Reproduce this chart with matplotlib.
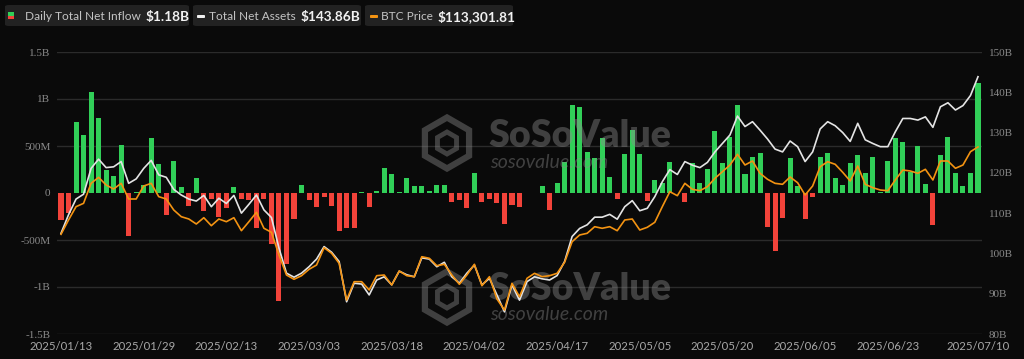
import matplotlib
matplotlib.use("Agg")
import matplotlib.pyplot as plt
import pandas as pd
from matplotlib.patches import FancyBboxPatch, Rectangle, RegularPolygon

W, H = 1024, 359
BG = "#0a0a0a"

# ---------------- data ----------------
holidays = ["2025-01-20", "2025-02-17", "2025-04-18", "2025-05-26", "2025-06-19", "2025-07-04"]
dates = [d for d in pd.bdate_range("2025-01-13", "2025-07-10") if d.strftime("%Y-%m-%d") not in holidays]
date_labels = [d.strftime("%Y/%m/%d") for d in dates]

tick_dates = ["2025/01/13", "2025/01/29", "2025/02/13", "2025/03/03", "2025/03/18", "2025/04/02",
              "2025/04/17", "2025/05/05", "2025/05/20", "2025/06/05", "2025/06/23", "2025/07/10"]

# Daily total net inflow (millions USD)
inflow_m = [
    -284, -213, 753, 621, 1076, 799, 241, 181, 515, -462,
    14, 89, 586, 312, -238, 337, 60, -142, 163, -188,
    -60, -256, -160, 60, -64, -71, -373, -60, -543, -1147,
    -756, -277, 89, -75, -146, -43, -142, -408, -373, -373,
    10, -150, 25, 270, 206, 10, 160, 78, 78, 21,
    85, 85, -92, -71, -160, 217, -99, -64, -110, -330,
    -124, -149, -5, 3, 71, -178, 103, 327, 934, 916,
    437, 373, 586, 167, -60, 415, 671, 419, -89, 138,
    110, 327, 0, -96, 316, 107, 256, 664, 323, 600,
    934, 206, 380, 430, -362, -621, -266, 373, 78, -277,
    -46, 383, 426, 160, 82, 320, 408, 213, 387, 7,
    344, 586, 543, 224, 497, 96, -344, 401, 600, 213,
    75, 213, 1175,
]

# Total net assets (billions USD)
net_assets_b = [
    105.0, 109.6, 113.5, 114.7, 121.1, 123.4, 121.3, 121.5, 122.8, 117.4,
    118.5, 121.1, 123.1, 119.5, 118.9, 115.9, 114.5, 113.5, 113.0, 114.4,
    111.6, 113.7, 112.4, 114.4, 110.0, 112.2, 114.5, 110.8, 108.9, 101.3,
    95.1, 94.1, 95.1, 96.7, 98.6, 101.7, 100.3, 98.0, 88.0, 92.6,
    92.4, 89.7, 93.4, 94.2, 92.2, 95.6, 94.7, 94.2, 98.9, 98.6,
    96.7, 97.8, 94.2, 92.6, 95.1, 97.1, 92.2, 93.8, 89.7, 85.5,
    92.2, 88.4, 93.0, 94.2, 93.7, 93.4, 94.5, 98.0, 104.2, 106.2,
    107.1, 109.0, 109.0, 109.7, 108.5, 111.6, 113.1, 110.6, 111.2, 114.1,
    117.8, 120.8, 119.6, 122.8, 121.9, 121.3, 122.6, 125.2, 127.3, 129.4,
    134.1, 131.5, 132.7, 130.6, 128.4, 125.9, 125.2, 127.9, 126.5, 122.8,
    125.2, 130.9, 132.7, 131.7, 130.0, 127.8, 132.3, 128.2, 127.3, 126.5,
    126.5, 130.2, 133.5, 133.5, 133.1, 133.9, 131.3, 136.4, 137.4, 135.6,
    136.7, 139.2, 143.86,
]

# BTC price (USD)
btc_price = [
    94707, 97756, 100593, 101302, 105557, 106834, 105202, 104352, 105557, 102224,
    102224, 104990, 105557, 102720, 102224, 99883, 98458, 97969, 96905, 98245,
    96544, 97969, 97395, 98245, 95480, 97395, 99394, 95991, 95139, 90309,
    86053, 85139, 85904, 87266, 88181, 91862, 90670, 88543, 80734, 84628,
    84628, 82862, 85904, 86053, 83926, 86905, 85904, 85691, 89947, 89607,
    88032, 88330, 86053, 84075, 86053, 88330, 83777, 85691, 80947, 78606,
    84287, 81436, 85351, 86415, 85691, 85904, 86415, 88756, 93139, 94564,
    94926, 96331, 95991, 96331, 95480, 97756, 97969, 95628, 96203, 97267,
    100593, 103777, 102926, 105557, 104288, 103990, 104841, 106628, 108033, 109458,
    111735, 109458, 110309, 107692, 106415, 105557, 105351, 106905, 105692, 103075,
    104990, 109096, 110160, 109607, 107904, 106054, 109245, 105351, 104628, 104139,
    103990, 106267, 108394, 108181, 107692, 108543, 106267, 110309, 110309, 108756,
    109458, 112288, 113301.81,
]

left_ticks = [-1500, -1000, -500, 0, 500, 1000, 1500]
left_tick_labels = ["-1.5B", "-1B", "-500M", "0", "500M", "1B", "1.5B"]
right_ticks = [80, 90, 100, 110, 120, 130, 140, 150]
right_tick_labels = ["80B", "90B", "100B", "110B", "120B", "130B", "140B", "150B"]

legend_items = [
    ("Daily Total Net Inflow", "$1.18B"),
    ("Total Net Assets", "$143.86B"),
    ("BTC Price", "$113,301.81"),
]

# ---------------- styling ----------------
GREEN = "#31cf58"
RED = "#f2433a"
WHITE_LINE = "#e4e4e4"
ORANGE = "#f39312"
GRID = "#2b2b2b"
TICK_C = "#8a8a8a"
XTICK_C = "#a8a8a8"

fig = plt.figure(figsize=(W / 100, H / 100), dpi=100, facecolor=BG)

x0, x1 = 57.25, 981.75
ytop, ybot = 52, 334
ax = fig.add_axes([x0 / W, (H - ybot) / H, (x1 - x0) / W, (ybot - ytop) / H])
ax.set_facecolor(BG)

n = len(dates)
xs = list(range(n))
colors = [GREEN if v >= 0 else RED for v in inflow_m]
ax.bar(xs, inflow_m, width=0.67, color=colors, zorder=2, linewidth=0)
ax.set_xlim(-0.5, n - 0.5)
ax.set_ylim(-1500, 1500)
for t in left_ticks:
    if t != 0:
        ax.axhline(t, color=GRID, lw=1.0, zorder=1)
ax.set_yticks(left_ticks)
ax.set_yticklabels(left_tick_labels, fontfamily="Liberation Serif", fontsize=8, color=TICK_C)
ax.tick_params(axis="y", length=0, pad=5)
tick_pos = [date_labels.index(t) for t in tick_dates]
ax.set_xticks(tick_pos)
ax.set_xticklabels(tick_dates, fontfamily="Lato", fontsize=8.2, color=XTICK_C)
ax.tick_params(axis="x", length=0, pad=5)
for s in ax.spines.values():
    s.set_visible(False)

# right axis: total net assets
ax2 = ax.twinx()
ax2.plot(xs, net_assets_b, color=WHITE_LINE, lw=1.2, zorder=3, solid_joinstyle="round")
ax2.set_ylim(80, 150)
ax2.set_yticks(right_ticks)
ax2.set_yticklabels(right_tick_labels, fontfamily="Liberation Serif", fontsize=8, color=TICK_C)
ax2.tick_params(axis="y", length=0, pad=5)
for s in ax2.spines.values():
    s.set_visible(False)

# hidden axis: BTC price
ax3 = ax.twinx()
ax3.plot(xs, btc_price, color=ORANGE, lw=1.2, zorder=3, solid_joinstyle="round")
ax3.set_ylim(73500, 133500)
ax3.set_yticks([])
for s in ax3.spines.values():
    s.set_visible(False)

# ---------------- watermarks ----------------
WM = (0.55, 0.55, 0.55)
def watermark(cy_logo, cy_text, cy_url):
    hexa = RegularPolygon((447 / 100, (H - cy_logo) / 100), numVertices=6, radius=0.255,
                          transform=fig.dpi_scale_trans, facecolor="none",
                          edgecolor=WM, lw=4.5, alpha=0.42, zorder=5)
    ax.add_artist(hexa)
    inner = RegularPolygon((447 / 100, (H - cy_logo) / 100), numVertices=6, radius=0.11,
                           transform=fig.dpi_scale_trans, facecolor="none",
                           edgecolor=WM, lw=3.5, alpha=0.42, zorder=5)
    ax.add_artist(inner)
    ax.text(488 / W, 1 - cy_text / H, "SoSoValue", transform=fig.transFigure,
            fontfamily="Lato", fontweight="heavy", fontsize=27, color=WM, alpha=0.42,
            ha="left", va="center", zorder=5)
    ax.text(490 / W, 1 - cy_url / H, "sosovalue.com", transform=fig.transFigure,
            fontfamily="Lato", fontstyle="italic", fontsize=14, color=WM, alpha=0.42,
            ha="left", va="center", zorder=5)

watermark(143, 136, 162)
watermark(297, 289, 315)

# ---------------- legend ----------------
renderer = fig.canvas.get_renderer()
boxes = [(5, 189), (193, 361), (365, 513)]
label_x = [25, 209, 381]
for (bx0, bx1), lx, (lab, val) in zip(boxes, label_x, legend_items):
    fig.patches.append(FancyBboxPatch((bx0 / W, (H - 26) / H), (bx1 - bx0) / W, 21 / H,
                                      boxstyle="round,pad=0,rounding_size=0.004",
                                      transform=fig.transFigure, facecolor="#222222",
                                      edgecolor="none"))
    t = fig.text(lx / W, 1 - 16.5 / H, lab, fontfamily="Lato", fontsize=8.6, color="#c4c4c4",
                 ha="left", va="center")
    ext = t.get_window_extent(renderer)
    fig.text((ext.x1 + 4.5) / W, 1 - 16.5 / H, val, fontfamily="Lato", fontweight="bold",
             fontsize=9.8, color="#f2f2f2", ha="left", va="center")

# legend icons
fig.patches.append(Rectangle((8 / W, (H - 15.5) / H), 6 / W, 3.5 / H, transform=fig.transFigure,
                             facecolor=GREEN, edgecolor="none"))
fig.patches.append(Rectangle((8 / W, (H - 19) / H), 6 / W, 3.5 / H, transform=fig.transFigure,
                             facecolor=RED, edgecolor="none"))
fig.patches.append(FancyBboxPatch((197 / W, (H - 18) / H), 8 / W, 3 / H,
                                  boxstyle="round,pad=0,rounding_size=0.0015",
                                  transform=fig.transFigure, facecolor="#f0f0f0", edgecolor="none"))
fig.patches.append(FancyBboxPatch((370 / W, (H - 18) / H), 8 / W, 3 / H,
                                  boxstyle="round,pad=0,rounding_size=0.0015",
                                  transform=fig.transFigure, facecolor=ORANGE, edgecolor="none"))

fig.savefig("out.png", dpi=100, facecolor=BG)
